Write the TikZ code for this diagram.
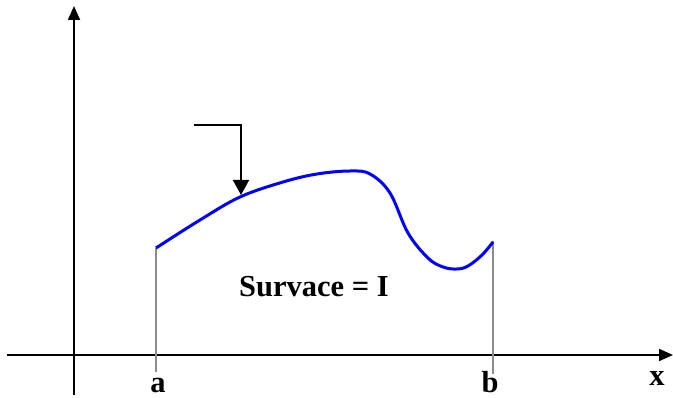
\documentclass[tikz,border=0pt]{standalone}
\usepackage{fontspec}
\setmainfont{Liberation Serif}
\usetikzlibrary{arrows.meta}
\tikzset{
  axis/.style={line width=2pt, black, -{Triangle[length=14pt,width=12pt]}},
  bound/.style={line width=2pt, gray!90},
  curve/.style={line width=3pt, blue, line join=round},
  pointer/.style={line width=1.8pt, black, -{Triangle[length=15pt,width=16pt]}},
  lbl/.style={font=\fontsize{30.5}{30.5}\selectfont\bfseries, inner sep=0pt}
}
\begin{document}
\begin{tikzpicture}[x=1pt,y=-1pt]
\useasboundingbox (0,0) rectangle (673,398);
% coordinates
\coordinate (xs) at (7,355);
\coordinate (xe) at (673,355);
\coordinate (ys) at (74,395);
\coordinate (ye) at (74,6);
\coordinate (a0) at (156,248);
\coordinate (a1) at (156,372);
\coordinate (b0) at (493,241);
\coordinate (b1) at (493,374);
\coordinate (p0) at (194,125);
\coordinate (p1) at (241,125);
\coordinate (p2) at (241,195);
% axes
\draw[axis] (xs) -- (xe);
\draw[axis] (ys) -- (ye);
% bounds
\draw[bound] (a0) -- (a1);
\draw[bound] (b0) -- (b1);
% curve
\draw[curve] plot[smooth, tension=0.6] coordinates {(156,248) (200,220) (240,197) (283,182) (317,174) (350,171) (370,174) (390,193) (408,233) (428,258) (443,267) (457,269) (468,266) (482,255) (493,242)};
% pointer
\draw[pointer] (p0) -- (p1) -- (p2);
% labels
\node[lbl] (la) at (158,385) {a};
\node[lbl] (lb) at (490,382) {b};
\node[lbl] (lx) at (657,379) {x};
\node[lbl] (ls) at (314,287) {Survace = I};
\end{tikzpicture}
\end{document}
